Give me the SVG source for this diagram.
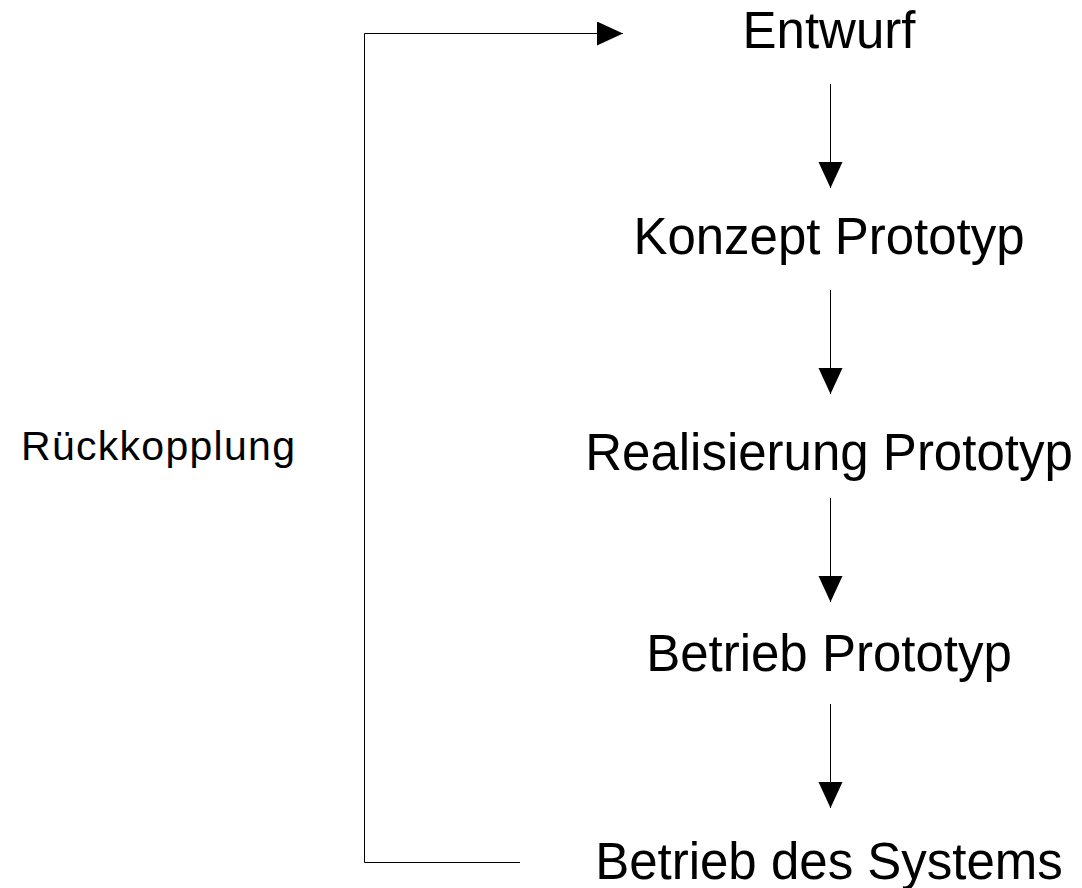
<svg xmlns="http://www.w3.org/2000/svg" width="1082" height="888" viewBox="0 0 1082 888">
<style>
text{font-family:"Liberation Sans",Arial,sans-serif;fill:#000;text-anchor:middle}
.n{font-size:51px}
.l{font-size:41px;text-anchor:start}
.c{stroke:#000;stroke-width:1;fill:none}
</style>
<defs>
<marker id="ah" markerUnits="userSpaceOnUse" markerWidth="26" markerHeight="26" refX="26" refY="12" orient="auto">
<path d="M0,0 L26,12 L0,24 Z" fill="#000"/>
</marker>
</defs>
<rect width="1082" height="888" fill="#fff"/>
<g id="connectors">
<polyline class="c" points="520,862.5 364.5,862.5 364.5,33.5 623,33.5" marker-end="url(#ah)"/>
<line class="c" x1="830.5" y1="84" x2="830.5" y2="188" marker-end="url(#ah)"/>
<line class="c" x1="830.5" y1="290" x2="830.5" y2="394" marker-end="url(#ah)"/>
<line class="c" x1="830.5" y1="498" x2="830.5" y2="602" marker-end="url(#ah)"/>
<line class="c" x1="830.5" y1="704" x2="830.5" y2="808" marker-end="url(#ah)"/>
</g>
<g id="entwurf"><text class="n" x="829" y="48">Entwurf</text></g>
<g id="konzept"><text class="n" x="829" y="254">Konzept Prototyp</text></g>
<g id="realisierung"><text class="n" x="829" y="470">Realisierung Prototyp</text></g>
<g id="betrieb-prototyp"><text class="n" x="829" y="671">Betrieb Prototyp</text></g>
<g id="betrieb-systems"><text class="n" x="829" y="879">Betrieb des Systems</text></g>
<g id="rueckkopplung"><text class="l" x="21" y="460" textLength="274" lengthAdjust="spacing">Rückkopplung</text></g>
</svg>
